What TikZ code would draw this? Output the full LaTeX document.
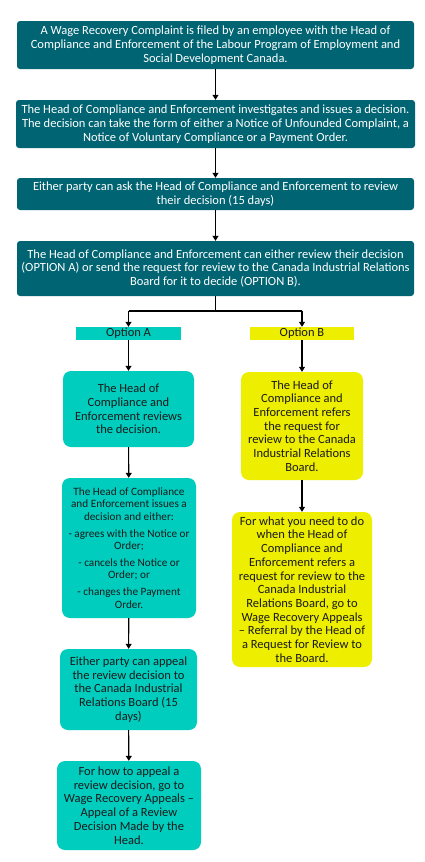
\documentclass[tikz,border=0pt]{standalone}
\usepackage{fontspec}
\setmainfont{Carlito}
\usetikzlibrary{arrows.meta}
\definecolor{darkteal}{HTML}{006472}
\definecolor{turq}{HTML}{00CDBE}
\definecolor{yel}{HTML}{EEEE00}
\definecolor{ink}{HTML}{1A1A1A}
\tikzset{
  base/.style={inner sep=0pt, align=center, font=\fontsize{12.5}{13.7}\selectfont},
  darkbox/.style={base, fill=darkteal, text=white, rounded corners=3pt},
  turqbox/.style={base, fill=turq, text=ink, rounded corners=8pt},
  yelbox/.style={base, fill=yel, text=ink, rounded corners=8pt},
  optlbl/.style={base, text=ink},
  arr/.style={line width=1.1pt, -{Triangle[width=6pt,length=5pt]}},
  ln/.style={line width=1.1pt}
}
\begin{document}
\begin{tikzpicture}[x=1pt,y=1pt]
\useasboundingbox[fill=white] (0,0) rectangle (424,-862);

\node[darkbox, minimum width=397pt, minimum height=48pt] (b1) at (215.5,-45)
 {A Wage Recovery Complaint is filed by an employee with the Head of\\Compliance and Enforcement of the Labour Program of Employment and\\Social Development Canada.};
\node[darkbox, minimum width=399pt, minimum height=48pt] (b2) at (215.5,-124)
 {The Head of Compliance and Enforcement investigates and issues a decision.\\The decision can take the form of either a Notice of Unfounded Complaint, a\\Notice of Voluntary Compliance or a Payment Order.};
\node[darkbox, minimum width=397pt, minimum height=32pt] (b3) at (215.5,-194)
 {Either party can ask the Head of Compliance and Enforcement to review\\their decision (15 days)};
\node[darkbox, minimum width=397pt, minimum height=55pt] (b4) at (215.5,-268.5)
 {The Head of Compliance and Enforcement can either review their decision\\(OPTION A) or send the request for review to the Canada Industrial Relations\\Board for it to decide (OPTION B).};

\node[optlbl, fill=turq, minimum width=105pt, minimum height=13pt] (oa) at (128.5,-333.5) {Option A};
\node[optlbl, fill=yel, minimum width=104pt, minimum height=13pt] (ob) at (302,-333.5) {Option B};

\node[turqbox, minimum width=131pt, minimum height=76pt] (a1) at (128.5,-409)
 {The Head of\\Compliance and\\Enforcement reviews\\the decision.};
\node[turqbox, minimum width=134pt, minimum height=140pt, font=\fontsize{11.2}{12.3}\selectfont] (a2) at (129,-548)
 {The Head of Compliance\\and Enforcement issues a\\decision and either:\\[4.7pt]
  - agrees with the Notice or\\Order;\\[4.7pt]
  - cancels the Notice or\\Order; or\\[4.7pt]
  - changes the Payment\\Order.};
\node[turqbox, minimum width=137pt, minimum height=81pt] (a3) at (128.5,-689.5)
 {Either party can appeal\\the review decision to\\the Canada Industrial\\Relations Board (15\\days)};
\node[turqbox, minimum width=144pt, minimum height=89pt] (a4) at (129,-805.5)
 {For how to appeal a\\review decision, go to\\Wage Recovery Appeals --\\Appeal of a Review\\Decision Made by the\\Head.};

\node[yelbox, minimum width=122pt, minimum height=108pt] (bb1) at (302,-426)
 {The Head of\\Compliance and\\Enforcement refers\\the request for\\review to the Canada\\Industrial Relations\\Board.};
\node[yelbox, minimum width=140pt, minimum height=155pt] (bb2) at (302,-589.5)
 {For what you need to do\\when the Head of\\Compliance and\\Enforcement refers a\\request for review to the\\Canada Industrial\\Relations Board, go to\\Wage Recovery Appeals\\-- Referral by the Head of\\a Request for Review to\\the Board.};

\coordinate (split) at (215.5,-311);
\coordinate (splitA) at (128.5,-311);
\coordinate (splitB) at (302,-311);

\draw[arr] (b1) -- (b2);
\draw[arr] (b2) -- (b3);
\draw[arr] (b3) -- (b4);
\draw[ln] (b4.south) -- (split);
\draw[ln] (splitA) -- (splitB);
\draw[arr] (splitA) -- (oa.north);
\draw[arr] (splitB) -- (ob.north);
\draw[arr] (oa) -- (a1);
\draw[arr] (a1) -- (a2);
\draw[arr] (a2) -- (a3);
\draw[arr] (a3) -- (a4);
\draw[arr] (ob) -- (bb1);
\draw[arr] (bb1) -- (bb2);
\end{tikzpicture}
\end{document}
